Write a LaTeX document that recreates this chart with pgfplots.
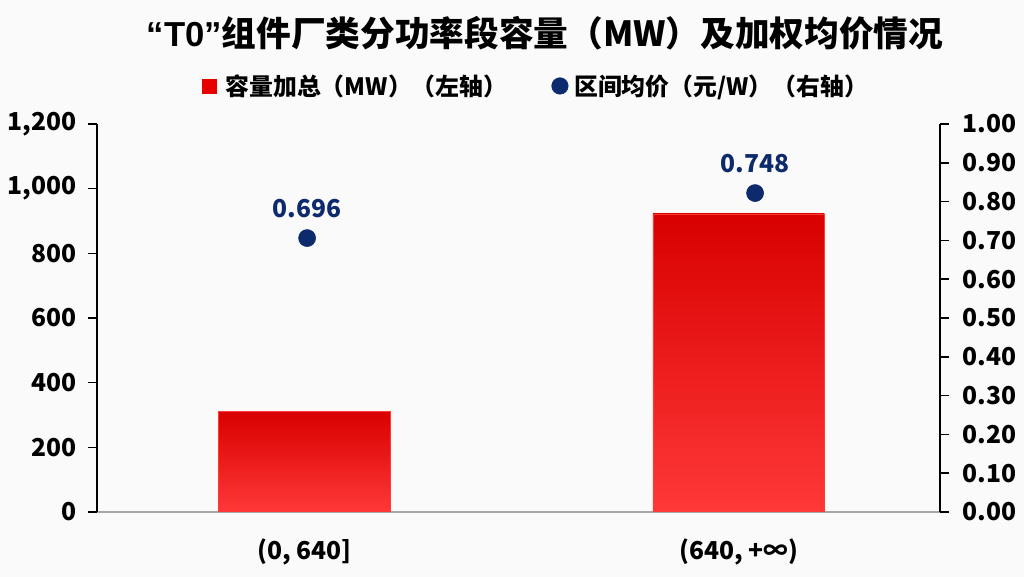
\documentclass[border=0pt]{standalone}
\usepackage{fontspec}
\setmainfont{Noto Sans CJK SC}
\newfontfamily\latinfont{Liberation Sans}
\usepackage{pgfplots}
\pgfplotsset{compat=1.18}
\definecolor{bartop}{HTML}{D80000}
\definecolor{barbot}{HTML}{FF3838}
\definecolor{barred}{HTML}{E60000}
\definecolor{dotblue}{HTML}{0D2A6C}
\definecolor{bg}{HTML}{FAFAFA}
\begin{document}
\begin{tikzpicture}
\useasboundingbox (-72.75pt,-48.75pt) rectangle (695.25pt,384pt);
\fill[bg] (-72.75pt,-48.75pt) rectangle (695.25pt,384pt);
\node[font=\bfseries\fontsize{26}{30}\selectfont] at (336pt,359.25pt) {{\latinfont\bfseries “T0”}组件厂类分功率段容量（MW）及加权均价情况};
\begin{axis}[
  at={(0pt,0pt)}, anchor=south west, scale only axis,
  width=632.25pt, height=291pt,
  xmin=-0.478, xmax=1.464, ymin=0, ymax=1200,
  axis y line*=left, axis x line*=bottom,
  ytick={0,200,400,600,800,1000,1200},
  xtick={0,1}, xticklabels={{(0, 640]},{(640, +∞)}},
  xtick style={draw=none},
  ytick style={black, line width=1.1pt},
  tick align=outside, major tick length=6.75pt,
  y axis line style={black, line width=1.1pt, -},
  x axis line style={draw=black!35, line width=1.1pt, -},
  /pgf/number format/assume math mode=true,
  /pgf/number format/1000 sep={,},
  yticklabel style={font=\bfseries\fontsize{18.5}{20}\selectfont, xshift=-5pt},
  xticklabel style={font=\bfseries\fontsize{18.5}{20}\selectfont, anchor=center, yshift=-23pt},
  legend style={at={(0.5215,1.098)}, anchor=center, legend columns=2, draw=none, fill=none,
     font=\bfseries\fontsize{17.9}{20}\selectfont,
     /tikz/every even column/.append style={column sep=31pt}},
]
\addplot[ybar, bar width=0.395, draw=barbot, line width=0.5pt, top color=bartop, bottom color=barbot, forget plot]
  coordinates {(0,312)};
\addplot[ybar, bar width=0.395, draw=barbot, line width=0.5pt, top color=bartop, bottom color=barbot, forget plot]
  coordinates {(1,922)};
\addlegendimage{legend image code/.code={\fill[barred] (0pt,-5.25pt) rectangle (10.5pt,5.25pt); \path (15pt,0pt);}}
\addlegendentry{容量加总（MW）（左轴）}
\addlegendimage{legend image code/.code={\fill[dotblue] (6pt,0pt) circle (6.2pt); \path (14.5pt,0pt);}}
\addlegendentry{区间均价（元/W）（右轴）}
\end{axis}
\begin{axis}[
  at={(0pt,0pt)}, anchor=south west, scale only axis,
  width=632.25pt, height=291pt,
  xmin=-0.478, xmax=1.464, ymin=0, ymax=1,
  axis y line*=right, axis x line=none,
  ytick={0,0.1,0.2,0.3,0.4,0.5,0.6,0.7,0.8,0.9,1.0},
  ytick style={black, line width=1.1pt},
  tick align=outside, major tick length=6.75pt,
  y axis line style={black, line width=1.1pt, -},
  /pgf/number format/assume math mode=true,
  yticklabel style={font=\bfseries\fontsize{18.5}{20}\selectfont, xshift=6.5pt,
     /pgf/number format/.cd, fixed, fixed zerofill, precision=2},
]
\addplot[only marks, mark=*, mark size=6.4pt, color=dotblue,
  nodes near coords, point meta=explicit symbolic,
  nodes near coords style={font=\bfseries\fontsize{18.5}{20}\selectfont, text=dotblue, anchor=center, yshift=22.5pt}]
  coordinates {(0.006,0.706)[0.696] (1.038,0.822)[0.748]};
\end{axis}
\end{tikzpicture}
\end{document}
